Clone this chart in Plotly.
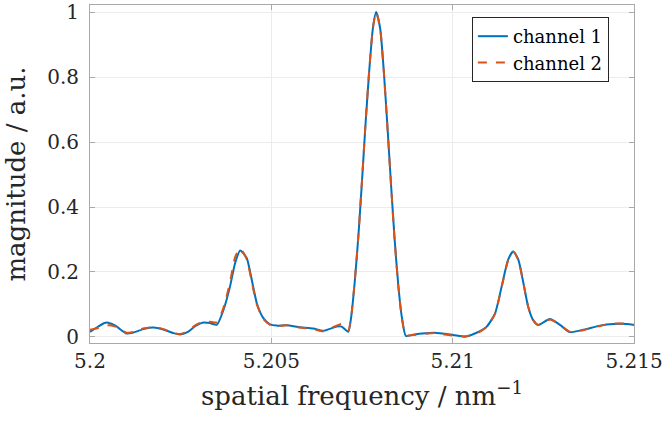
import plotly.graph_objects as go

# spatial frequency (nm^-1)
freq = [5.2000, 5.2002, 5.2004, 5.2005, 5.2007, 5.2009, 5.2010, 5.2012, 5.2015, 5.20175,
        5.2020, 5.2023, 5.20248, 5.2027, 5.2029, 5.2031, 5.2033, 5.2035, 5.20368, 5.20386,
        5.2040, 5.20414, 5.20432, 5.20446, 5.2046, 5.20478, 5.20496, 5.20515, 5.20542, 5.20579,
        5.20616, 5.20643, 5.2068, 5.20694, 5.20712, 5.2072, 5.2073, 5.2074, 5.2075, 5.2076,
        5.2077, 5.2078, 5.20789, 5.2080, 5.2081, 5.2082, 5.2083, 5.2084, 5.2085, 5.2086,
        5.20871, 5.2089, 5.2095, 5.21002, 5.21034, 5.21066, 5.21094, 5.21117, 5.21135, 5.21153,
        5.21167, 5.21181, 5.21195, 5.21208, 5.21222, 5.21236, 5.21268, 5.21296, 5.21323, 5.2136,
        5.21406, 5.21443, 5.2148, 5.2150]

channel1 = [0.016, 0.030, 0.043, 0.044, 0.035, 0.018, 0.011, 0.014, 0.025, 0.029,
            0.024, 0.012, 0.008, 0.016, 0.033, 0.044, 0.043, 0.038, 0.083, 0.155,
            0.227, 0.266, 0.243, 0.176, 0.104, 0.058, 0.039, 0.035, 0.036, 0.030,
            0.026, 0.019, 0.032, 0.032, 0.016, 0.060, 0.170, 0.310, 0.480, 0.660,
            0.820, 0.950, 1.000, 0.950, 0.820, 0.650, 0.470, 0.300, 0.160, 0.060,
            0.003, 0.007, 0.013, 0.006, 0.001, 0.013, 0.032, 0.073, 0.155, 0.238,
            0.263, 0.238, 0.166, 0.094, 0.052, 0.037, 0.055, 0.037, 0.015, 0.022,
            0.035, 0.040, 0.040, 0.037]

channel2 = [0.022, 0.027, 0.034, 0.036, 0.032, 0.020, 0.013, 0.016, 0.027, 0.030,
            0.025, 0.013, 0.009, 0.018, 0.036, 0.046, 0.047, 0.045, 0.090, 0.168,
            0.245, 0.272, 0.240, 0.170, 0.100, 0.056, 0.038, 0.034, 0.036, 0.029,
            0.024, 0.018, 0.035, 0.040, 0.020, 0.062, 0.172, 0.312, 0.482, 0.662,
            0.822, 0.951, 1.000, 0.950, 0.818, 0.648, 0.468, 0.298, 0.158, 0.058,
            0.005, 0.006, 0.012, 0.004, 0.002, 0.011, 0.031, 0.072, 0.153, 0.236,
            0.262, 0.237, 0.166, 0.094, 0.052, 0.037, 0.054, 0.038, 0.016, 0.021,
            0.034, 0.041, 0.041, 0.038]

x_ticks = [5.2, 5.205, 5.21, 5.215]
x_ticktext = ["5.2", "5.205", "5.21", "5.215"]
y_ticks = [0, 0.2, 0.4, 0.6, 0.8, 1.0]
y_ticktext = ["0", "0.2", "0.4", "0.6", "0.8", "1"]

FONT = "DejaVu Serif"
AX = "#a9a9a9"
GRID = "#ececec"

fig = go.Figure()
fig.add_trace(go.Scatter(x=freq, y=channel1, mode="lines", name="channel 1",
                         line=dict(color="#0072BD", width=2, shape="spline", smoothing=0.6)))
fig.add_trace(go.Scatter(x=freq, y=channel2, mode="lines", name="channel 2",
                         line=dict(color="#D95319", width=2, dash="dash", shape="spline", smoothing=0.6)))

fig.update_layout(
    width=664, height=421,
    margin=dict(l=90, r=30, t=5, b=78),
    paper_bgcolor="white", plot_bgcolor="white",
    font=dict(family=FONT, color="#262626"),
    showlegend=True,
    legend=dict(x=0.702, y=0.9645, xanchor="left", yanchor="top",
                bgcolor="white", bordercolor="#262626", borderwidth=1,
                font=dict(family=FONT, size=18, color="#000000"),
                itemwidth=30, tracegroupgap=0),
)
fig.update_xaxes(
    range=[5.2, 5.215], tickvals=x_ticks, ticktext=x_ticktext,
    showgrid=True, gridcolor=GRID, gridwidth=1, zeroline=False,
    showline=True, linecolor=AX, linewidth=1, mirror="ticks",
    ticks="inside", ticklen=5, tickcolor=AX,
    tickfont=dict(family=FONT, size=20, color="#262626"),
    ticklabeloverflow="allow", ticklabelstandoff=0,
    title=dict(text="spatial frequency / nm<sup>\u22121</sup>",
               font=dict(family=FONT, size=26, color="#262626"), standoff=14),
    automargin=False,
)
fig.update_yaxes(
    range=[-0.0185, 1.0216], tickvals=y_ticks, ticktext=y_ticktext,
    showgrid=True, gridcolor=GRID, gridwidth=1, zeroline=False,
    showline=True, linecolor=AX, linewidth=1, mirror="ticks",
    ticks="inside", ticklen=5, tickcolor=AX,
    tickfont=dict(family=FONT, size=20, color="#262626"),
    ticklabeloverflow="allow", ticklabelstandoff=6,
    title=dict(text="magnitude / a.u.",
               font=dict(family=FONT, size=26, color="#262626"), standoff=14),
    automargin=False,
)

fig.write_html("out.html", config={"displayModeBar": False},
               post_script="document.body.style.margin='0px';")
